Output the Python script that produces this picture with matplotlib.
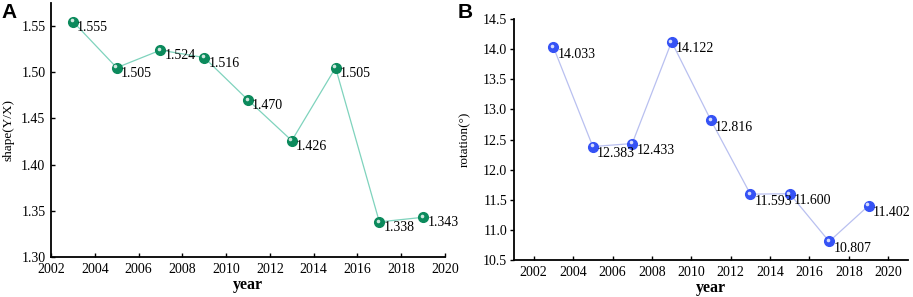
import numpy as np
import matplotlib.pyplot as plt
from matplotlib.transforms import offset_copy

plt.rcParams['font.family'] = ['Liberation Serif', 'DejaVu Serif']

years = [2003, 2005, 2007, 2009, 2011, 2013, 2015, 2017, 2019]
shape_vals = [1.555, 1.505, 1.524, 1.516, 1.470, 1.426, 1.505, 1.338, 1.343]
shape_labels = ["1.555", "1.505", "1.524", "1.516", "1.470", "1.426", "1.505", "1.338", "1.343"]
rot_vals = [14.033, 12.383, 12.433, 14.122, 12.816, 11.593, 11.600, 10.807, 11.402]
rot_labels = ["14.033", "12.383", "12.433", "14.122", "12.816", "11.593", "11.600", "10.807", "11.402"]

fig = plt.figure(figsize=(9.13, 2.97), dpi=100)
axA = fig.add_axes([0.0559, 0.1347, 0.4315, 0.855])
axB = fig.add_axes([0.563, 0.1246, 0.4315, 0.8114])


def balls(ax, x, y, line_c, ball_c):
    ax.plot(x, y, color=line_c, lw=0.9, zorder=2)
    ax.plot(x, y, ls='none', marker='o', ms=7, mfc=ball_c, mec=ball_c, zorder=3)
    # little highlight for the 3d look
    tr = offset_copy(ax.transData, fig=fig, x=-1.3, y=1.2, units='dots')
    ax.plot(x, y, ls='none', marker='o', ms=2.6, mfc='white', mec='none',
            alpha=0.8, transform=tr, zorder=4)


def style(ax, ylabel):
    ax.spines['top'].set_visible(False)
    ax.spines['right'].set_visible(False)
    ax.spines['left'].set_linewidth(1.3)
    ax.spines['bottom'].set_linewidth(1.3)
    ax.set_xlabel('year', fontsize=11.5, fontweight='bold', labelpad=1)
    ax.set_ylabel(ylabel, fontsize=9.5)
    ax.tick_params(labelsize=10)


# panel A
balls(axA, years, shape_vals, '#7fd3bd', '#0b8a5c')
for x, y, s in zip(years, shape_vals, shape_labels):
    axA.annotate(s, (x, y), xytext=(3, -4), textcoords='offset points',
                 ha='left', va='center', fontsize=10)
axA.set_xlim(2002, 2020)
axA.set_ylim(1.30, 1.575)
axA.set_xticks(np.arange(2002, 2021, 2))
axA.set_yticks(np.arange(1.30, 1.551, 0.05))
axA.yaxis.set_major_formatter(plt.FormatStrFormatter('%.2f'))
axA.tick_params(axis='both', direction='in', length=3, width=1, pad=4)
style(axA, 'shape(Y/X)')
axA.yaxis.set_label_coords(-0.094, 0.5)
fig.text(0.002, 0.99, 'A', fontsize=15, fontweight='bold',
         family='Liberation Sans', va='top', ha='left')

# panel B
balls(axB, years, rot_vals, '#b9c0f0', '#3552f5')
for x, y, s in zip(years, rot_vals, rot_labels):
    axB.annotate(s, (x, y), xytext=(3, -5), textcoords='offset points',
                 ha='left', va='center', fontsize=10)
axB.set_xlim(2001, 2021)
axB.set_ylim(10.5, 14.5)
axB.set_xticks(np.arange(2002, 2021, 2))
axB.set_yticks(np.arange(10.5, 14.51, 0.5))
axB.yaxis.set_major_formatter(plt.FormatStrFormatter('%.1f'))
axB.tick_params(axis='x', direction='in', length=3, width=1, pad=4)
axB.tick_params(axis='y', direction='out', length=3, width=1, pad=2)
style(axB, 'rotation(°)')
axB.yaxis.set_label_coords(-0.11, 0.5)
fig.text(0.501, 0.99, 'B', fontsize=15, fontweight='bold',
         family='Liberation Sans', va='top', ha='left')

fig.savefig('out.png', dpi=100)
